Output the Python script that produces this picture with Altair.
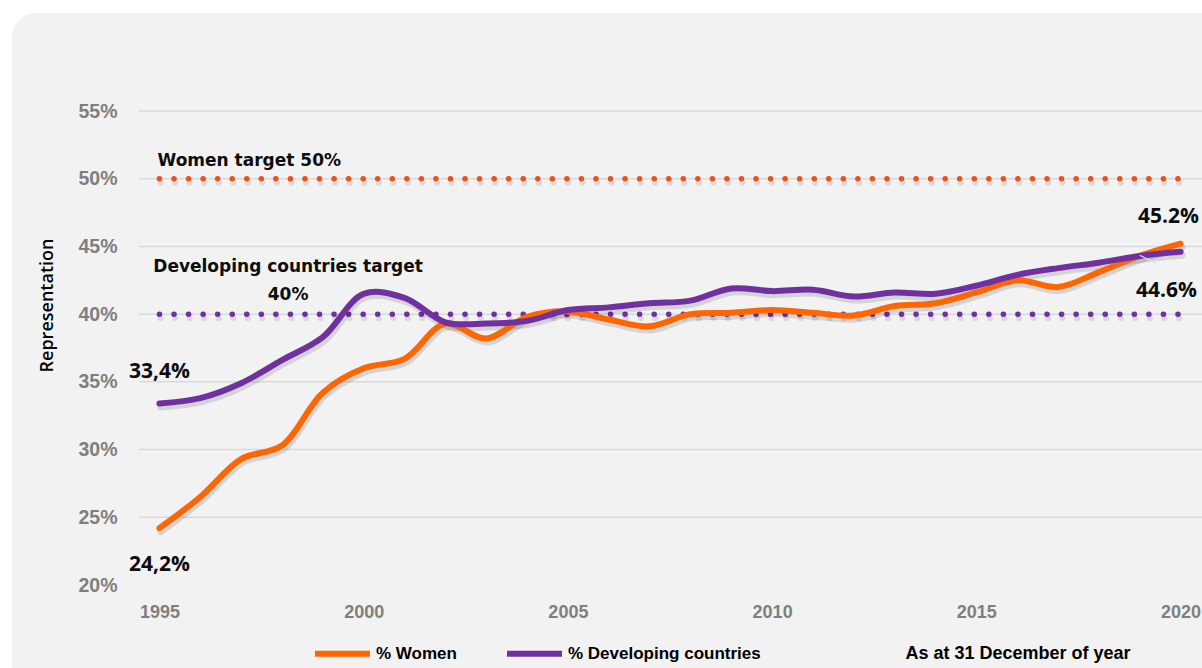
import altair as alt
import pandas as pd

# ---------------- data ----------------
years = list(range(1995, 2021))
women = [24.2, 26.5, 29.3, 30.3, 34.2, 36.0, 36.7, 39.3, 38.2, 39.8, 40.2, 39.6, 39.1,
         40.0, 40.1, 40.3, 40.1, 39.9, 40.6, 40.8, 41.6, 42.5, 42.0, 43.1, 44.3, 45.2]
developing = [33.4, 33.8, 34.9, 36.6, 38.3, 41.5, 41.2, 39.4, 39.3, 39.5, 40.3, 40.5, 40.8,
              41.0, 41.9, 41.7, 41.8, 41.3, 41.6, 41.5, 42.1, 42.9, 43.4, 43.8, 44.3, 44.6]
series_names = ["% Women", "% Developing countries"]
series_colors = ["#ff6600", "#7030a0"]
target_values = [50, 40]
target_colors = ["#e8531e", "#7030a0"]
y_ticks = [20, 25, 30, 35, 40, 45, 50, 55]
grid_values = [25, 30, 35, 40, 45, 50, 55]
x_ticks = [1995, 2000, 2005, 2010, 2015, 2020]

W, H = 1062, 474

lines_df = pd.DataFrame({
    "year": years * 2,
    "value": women + developing,
    "series": [series_names[0]] * len(years) + [series_names[1]] * len(years),
})

xscale = alt.Scale(domain=[1994.5, 2020.5], nice=False, zero=False)
yscale = alt.Scale(domain=[20, 55], nice=False, zero=False)

x_axis = alt.Axis(values=x_ticks, format="d", grid=False, domain=False, ticks=False, tickSize=0,
                  labelFont="Liberation Sans", labelFontWeight="bold", labelFontSize=18,
                  labelColor="#7f7f7f", labelPadding=18, zindex=1,
                  title="As at 31 December of year", titleFont="Liberation Sans", titleFontSize=18,
                  titleFontWeight="bold", titleColor="#000000", titleX=766, titleY=68,
                  titleAlign="left", titleAnchor="start", titleBaseline="middle")
y_axis = alt.Axis(values=y_ticks, labelExpr="datum.value + '%'", grid=False, domain=False,
                  ticks=False, tickSize=0, labelFont="Liberation Sans", labelFontWeight="bold",
                  labelFontSize=19.5, labelColor="#7f7f7f", labelPadding=22, zindex=1,
                  title="Representation", titleFont="Open Sans", titleFontSize=18,
                  titleFontWeight=600, titleColor="#000000", titleAngle=-90,
                  titleX=-92, titleY=194, titleAlign="center", titleBaseline="middle")


def X():
    return alt.X("year:Q", scale=xscale, axis=x_axis)


def Y():
    return alt.Y("value:Q", scale=yscale, axis=y_axis)


# background panel
bg = alt.Chart(pd.DataFrame({"k": [0]})).mark_rect(color="#f2f2f2", cornerRadius=24).encode(
    x=alt.value(12 - 139), x2=alt.value(W + 60), y=alt.value(13 - 111), y2=alt.value(H + 150)
)

grid = alt.Chart(pd.DataFrame({"value": grid_values})).mark_rule(color="#d9d9d9", strokeWidth=1.5).encode(
    y=Y(), x=alt.value(0), x2=alt.value(W + 2)
)

layers = [bg, grid]

# target dotted lines
for tv, tc in zip(target_values, target_colors):
    tdf = pd.DataFrame({"year": [years[0], years[-1]], "value": [tv, tv]})
    shadow = alt.Chart(tdf).mark_line(color="#000000", opacity=0.10, strokeWidth=6,
                                      strokeDash=[0.1, 14.45], strokeCap="round",
                                      yOffset=4, xOffset=1).encode(x=X(), y=Y())
    dots = alt.Chart(tdf).mark_line(color=tc, strokeWidth=5.5, strokeDash=[0.1, 14.45],
                                    strokeCap="round").encode(x=X(), y=Y())
    layers += [shadow, dots]

# line shadows
line_shadow = alt.Chart(lines_df).mark_line(color="#000000", opacity=0.12, strokeWidth=7,
                                            interpolate="catmull-rom", yOffset=3.5, xOffset=1.5,
                                            strokeCap="round").encode(
    x=X(), y=Y(), detail="series:N",
)

main_lines = alt.Chart(lines_df).mark_line(strokeWidth=6, interpolate="catmull-rom",
                                           strokeCap="round").encode(
    x=X(), y=Y(),
    color=alt.Color("series:N",
                    scale=alt.Scale(domain=series_names, range=series_colors),
                    sort=series_names,
                    legend=alt.Legend(orient="none", legendX=173, legendY=512,
                                      direction="horizontal", symbolType="stroke",
                                      symbolSize=3025, symbolStrokeWidth=6,
                                      labelFont="Liberation Sans", labelFontSize=17,
                                      labelFontWeight="bold", labelLimit=0,
                                      labelColor="#000000", labelOffset=3, columnPadding=38,
                                      title=None)),
    order=alt.Order("year:Q"),
)
layers += [line_shadow, main_lines]

# leader line for 44.6%
leader = alt.Chart(pd.DataFrame({"year": [2019.0], "x2": [2019.4], "value": [44.35], "y2": [43.75]})).mark_rule(
    color="#e0e0e0", strokeWidth=1.2).encode(x=X(), x2="x2:Q", y=Y(), y2="y2:Q")
layers.append(leader)


def label(text, year, value, font, size, dx=0, dy=0, align="center"):
    df = pd.DataFrame({"year": [year], "value": [value], "t": [text]})
    return alt.Chart(df).mark_text(font=font, fontSize=size, fontWeight="bold", color="#0d0d0d",
                                   align=align, baseline="middle", dx=dx, dy=dy,
                                   lineBreak="\n", lineHeight=28).encode(
        x=X(), y=Y(), text="t:N")


layers += [
    label("Women target 50%", 1997.2, target_values[0], "DejaVu Sans", 17, dy=-18),
    label("Developing countries target\n40%", 1998.15, target_values[1], "DejaVu Sans", 17, dy=-47),
    label("33,4%", years[0], developing[0], "Open Sans", 21, dy=-31.5),
    label("24,2%", years[0], women[0], "Open Sans", 21, dy=36.5),
    label("45.2%", years[-1], women[-1], "Open Sans", 21, dx=-12, dy=-27),
    label("44.6%", years[-1], developing[-1], "Open Sans", 21, dx=-14, dy=39),
]

chart = alt.layer(*layers).properties(
    width=W, height=H,
    autosize=alt.AutoSizeParams(type="none"),
    padding={"left": 139, "top": 111, "right": 1, "bottom": 83},
    background="#ffffff",
).configure_view(strokeWidth=0)

chart.save("out.html", embed_options={"renderer": "svg", "actions": False})
